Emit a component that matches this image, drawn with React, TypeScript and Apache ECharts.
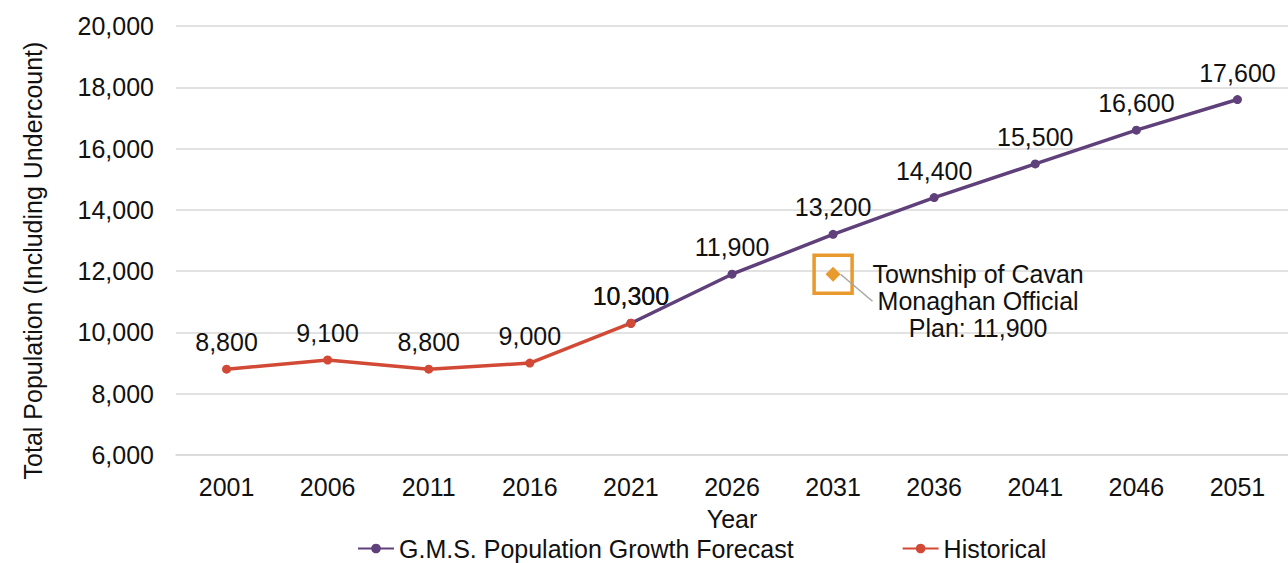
import React, { useEffect, useRef } from "react";
import * as echarts from "echarts";

const years = ["2001", "2006", "2011", "2016", "2021", "2026", "2031", "2036", "2041", "2046", "2051"];
const forecast = [null, null, null, null, 10300, 11900, 13200, 14400, 15500, 16600, 17600];
const historical = [8800, 9100, 8800, 9000, 10300, null, null, null, null, null, null];
const planYear = "2031";
const planValue = 11900;
const planLabel = "Township of Cavan\nMonaghan Official\nPlan: 11,900";

const FONT = "'Liberation Sans', Arial, sans-serif";
const FS = 25;
const PURPLE = "#5F407A";
const RED = "#D24A35";
const ORANGE = "#E89A2E";

export default function App() {
  const ref = useRef<HTMLDivElement>(null);
  useEffect(() => {
    document.body.style.margin = "0";
    const chart = echarts.init(ref.current!, null, { renderer: "svg" });
    const fmt = (v: number) => v.toLocaleString("en-US");
    const lbl = {
      show: true,
      position: "top",
      distance: 10,
      color: "#111",
      fontSize: FS,
      fontFamily: FONT,
      formatter: (p: any) => fmt(p.value),
    };
    chart.setOption({
      animation: false,
      textStyle: { fontFamily: FONT },
      grid: { left: 176, right: 0, top: 26, bottom: 108, containLabel: false },
      xAxis: {
        type: "category",
        data: years,
        boundaryGap: true,
        name: "Year",
        nameLocation: "middle",
        nameGap: 51,
        nameTextStyle: { fontSize: FS, color: "#111", fontFamily: FONT },
        axisLine: { show: true, lineStyle: { color: "#d9d9d9", width: 1.5 } },
        axisTick: { show: false },
        axisLabel: { fontSize: FS, color: "#111", margin: 19, fontFamily: FONT },
      },
      yAxis: {
        type: "value",
        min: 6000,
        max: 20000,
        interval: 2000,
        name: "Total Population (Including Undercount)",
        nameLocation: "middle",
        nameGap: 131,
        nameRotate: 90,
        nameTextStyle: { fontSize: FS, color: "#111", fontFamily: FONT, padding: [0, 40, 0, 0] },
        axisLine: { show: false },
        axisTick: { show: false },
        axisLabel: { fontSize: FS, color: "#111", margin: 22, fontFamily: FONT, formatter: (v: number) => fmt(v) },
        splitLine: { lineStyle: { color: "#d9d9d9", width: 1.5 } },
      },
      legend: {
        data: ["G.M.S. Population Growth Forecast", "Historical"],
        left: 352,
        top: 531,
        itemGap: 108,
        itemWidth: 36,
        itemHeight: 12,
        textStyle: { fontSize: FS, color: "#111", fontFamily: FONT },
      },
      series: [
        {
          name: "G.M.S. Population Growth Forecast",
          type: "line",
          data: forecast,
          color: PURPLE,
          lineStyle: { width: 3.5, color: PURPLE },
          symbol: "circle",
          symbolSize: 9,
          label: lbl,
        },
        {
          name: "Historical",
          type: "line",
          data: historical,
          color: RED,
          lineStyle: { width: 3.5, color: RED },
          symbol: "circle",
          symbolSize: 9,
          label: lbl,
        },
        {
          name: "planBox",
          type: "scatter",
          data: [[planYear, planValue]],
          symbol: "rect",
          symbolSize: 38,
          itemStyle: { color: "rgba(0,0,0,0)", borderColor: ORANGE, borderWidth: 3.5, opacity: 1 },
          z: 3,
        },
        {
          name: "plan",
          type: "scatter",
          data: [[planYear, planValue]],
          symbol: "diamond",
          symbolSize: 15,
          itemStyle: { color: ORANGE, opacity: 1 },
          z: 4,
          label: {
            show: true,
            position: "inside",
            formatter: planLabel,
            fontSize: FS,
            lineHeight: 27,
            align: "center",
            color: "#111",
            textBorderWidth: 0,
            opacity: 1,
            fontFamily: FONT,
          },
          labelLayout: { dx: 145, dy: 27 },
          labelLine: { show: true, lineStyle: { color: "#a6a6a6", width: 1.5, opacity: 1 } },
        },
      ],
    });
    return () => chart.dispose();
  }, []);
  return <div ref={ref} style={{ width: 1288, height: 563 }} />;
}
